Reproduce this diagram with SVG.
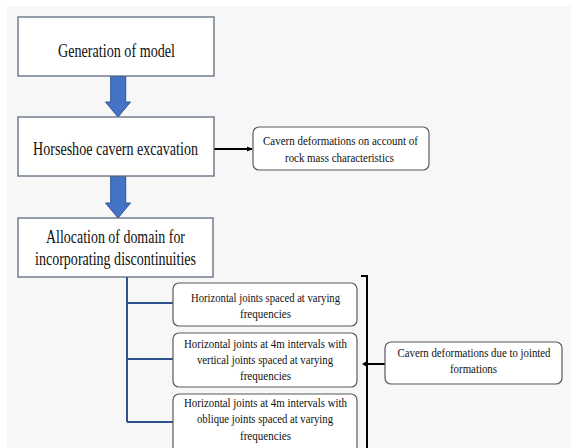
<svg xmlns="http://www.w3.org/2000/svg" width="571" height="448" viewBox="0 0 571 448">
<defs>
<style>
.box{fill:#ffffff;stroke:#5f6b7f;stroke-width:1.3}
.rbox{fill:#ffffff;stroke:#5a5a5a;stroke-width:1.2}
.big{font-size:19px;fill:#111}
.sm{font-size:13.5px;fill:#111}
.blk{fill:#4472c4;stroke:#2f5597;stroke-width:1}
.tree{stroke:#2f528f;stroke-width:2;fill:none}
.ln{stroke:#000;stroke-width:2;fill:none}
</style>
<marker id="ah" markerWidth="6" markerHeight="6" refX="5" refY="3" orient="auto" markerUnits="userSpaceOnUse">
<path d="M0,0.5 L6,3 L0,5.5 Z" fill="#000"/>
</marker>
</defs>
<rect x="0" y="0" width="571" height="448" fill="#ffffff"/>
<rect x="7" y="6" width="564" height="442" fill="#f7f7f7"/>

<g id="connectors">
<path class="blk" d="M110.7,76 H125.7 V102 H130.5 L118,117 L105.5,102 H110.7 Z"/>
<path class="blk" d="M110.7,176 H125.7 V203 H130.5 L118,218 L105.5,203 H110.7 Z"/>
<line class="ln" x1="214" y1="149" x2="252" y2="149" marker-end="url(#ah)"/>
<path class="tree" d="M127,277 V422 M127,303 H173 M127,359 H173 M127,422 H173"/>
<path class="ln" d="M361,276 H367 V448 M367,364 H385"/>
<path d="M362,364 L367,361 L367,367 Z" fill="#000"/>
</g>

<g font-family="Liberation Serif, serif">
<g id="n1">
<rect class="box" x="18" y="17" width="196" height="59"/>
<text class="big" x="116.5" y="57" text-anchor="middle" textLength="117" lengthAdjust="spacingAndGlyphs">Generation of model</text>
</g>
<g id="n2">
<rect class="box" x="18" y="117" width="196" height="59"/>
<text class="big" x="115.5" y="155" text-anchor="middle" textLength="165" lengthAdjust="spacingAndGlyphs">Horseshoe cavern excavation</text>
</g>
<g id="n3">
<rect class="rbox" x="253" y="127" width="176" height="43" rx="6"/>
<text class="sm" x="340.5" y="145" text-anchor="middle" textLength="155" lengthAdjust="spacingAndGlyphs">Cavern deformations on account of</text>
<text class="sm" x="339.5" y="161.5" text-anchor="middle" textLength="109" lengthAdjust="spacingAndGlyphs">rock mass characteristics</text>
</g>
<g id="n4">
<rect class="box" x="18" y="218" width="195" height="59"/>
<text class="big" x="115.5" y="243" text-anchor="middle" textLength="139" lengthAdjust="spacingAndGlyphs">Allocation of domain for</text>
<text class="big" x="115.5" y="265" text-anchor="middle" textLength="161" lengthAdjust="spacingAndGlyphs">incorporating discontinuities</text>
</g>
<g id="n5">
<rect class="rbox" x="173" y="283" width="184" height="43" rx="6"/>
<text class="sm" x="265.5" y="302" text-anchor="middle" textLength="149" lengthAdjust="spacingAndGlyphs">Horizontal joints  spaced at varying</text>
<text class="sm" x="265.5" y="317.5" text-anchor="middle" textLength="51" lengthAdjust="spacingAndGlyphs">frequencies</text>
</g>
<g id="n6">
<rect class="rbox" x="173" y="333" width="184" height="54" rx="6"/>
<text class="sm" x="265.5" y="348" text-anchor="middle" textLength="163" lengthAdjust="spacingAndGlyphs">Horizontal joints at 4m intervals with</text>
<text class="sm" x="265" y="364" text-anchor="middle" textLength="136" lengthAdjust="spacingAndGlyphs">vertical joints spaced at varying</text>
<text class="sm" x="265.5" y="380" text-anchor="middle" textLength="51" lengthAdjust="spacingAndGlyphs">frequencies</text>
</g>
<g id="n7">
<rect class="rbox" x="173" y="394" width="184" height="60" rx="6"/>
<text class="sm" x="265.5" y="407" text-anchor="middle" textLength="163" lengthAdjust="spacingAndGlyphs">Horizontal joints at 4m intervals with</text>
<text class="sm" x="265" y="423" text-anchor="middle" textLength="136" lengthAdjust="spacingAndGlyphs">oblique joints spaced at varying</text>
<text class="sm" x="265.5" y="440" text-anchor="middle" textLength="51" lengthAdjust="spacingAndGlyphs">frequencies</text>
</g>
<g id="n8">
<rect class="rbox" x="385" y="342" width="177" height="42" rx="6"/>
<text class="sm" x="474" y="357" text-anchor="middle" textLength="153" lengthAdjust="spacingAndGlyphs">Cavern deformations due to jointed</text>
<text class="sm" x="473.5" y="373" text-anchor="middle" textLength="47" lengthAdjust="spacingAndGlyphs">formations</text>
</g>
</g>
</svg>
